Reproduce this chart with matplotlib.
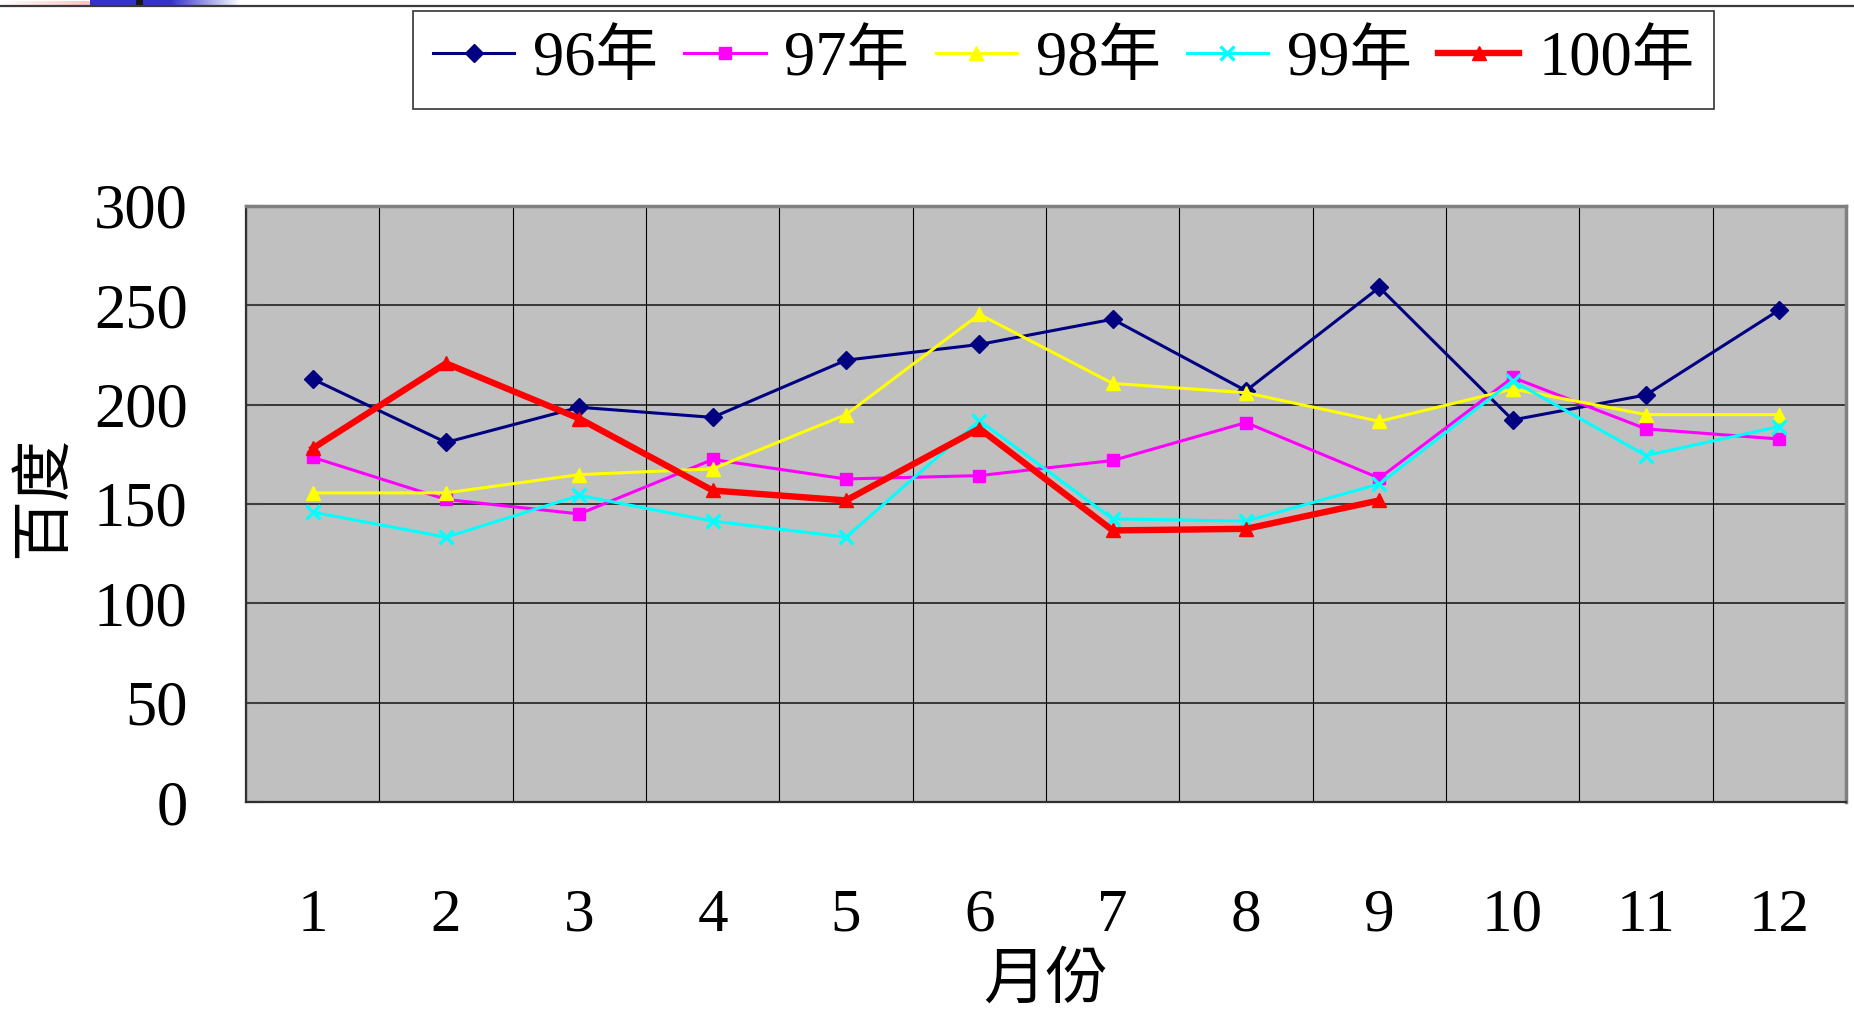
import matplotlib
matplotlib.use('Agg')
import matplotlib.pyplot as plt
import numpy as np

FAM = ['Liberation Serif', 'Noto Sans CJK TC', 'DejaVu Sans']
plt.rcParams['font.family'] = FAM

months = list(range(1, 13))
month_labels = [str(m) for m in months]
y96 = [212.9, 181, 198.7, 193.6, 222.4, 230.3, 243, 207, 259, 192.3, 204.9, 247.7]
y97 = [173.5, 152.3, 145, 172.4, 162.6, 164.3, 171.9, 191, 163, 213.7, 187.8, 182.7]
y98 = [155.6, 155.6, 164.8, 167.7, 195, 245.5, 210.7, 206, 191.6, 207.9, 195, 195]
y99 = [145.9, 133.3, 154.3, 141.4, 133.3, 192, 142.5, 141.4, 160.1, 212, 174.4, 189]
y100 = [178, 220.8, 193, 156.8, 151.8, 188, 136.7, 137.5, 151.8]
series_names = ['96年', '97年', '98年', '99年', '100年']
yticks = [0, 50, 100, 150, 200, 250, 300]
ytick_labels = [str(v) for v in yticks]

W, H = 1854, 1013
fig = plt.figure(figsize=(W / 100, H / 100), dpi=100)

# slide decoration at top
deco = fig.add_axes([0, 1 - 6 / H, 1, 6 / H])
deco.set_xlim(0, W)
deco.set_ylim(6, 0)
deco.axis('off')
img = np.ones((6, 260, 3))
for x in range(260):
    if x < 120:
        t = x / 120.0
        img[1:5, x] = [1.0, 1 - 0.32 * t, 1 - 0.32 * t]
    if 90 <= x < 240:
        if x < 170:
            c = np.array([0.2, 0.2, 0.8])
        else:
            t = (x - 170) / 70.0
            c = np.array([0.2, 0.2, 0.8]) * (1 - t) + np.array([1, 1, 1]) * t
        img[0:6, x] = c
    if 136 <= x < 143:
        img[0:6, x] = [0.1, 0.1, 0.1]
deco.imshow(img, extent=(0, 260, 6, 0), aspect='auto', interpolation='nearest')
fig.add_artist(plt.Line2D([0, 1], [1 - 6.5 / H, 1 - 6.5 / H], color='#3a3a3a', lw=1.6,
                          transform=fig.transFigure))

ax = fig.add_axes([246 / W, 1 - 802 / H, 1600 / W, 596 / H])
ax.set_facecolor('#C0C0C0')

ax.plot(months, y96, color='#000080', marker='D', ms=9, lw=2.2, label=series_names[0])
ax.plot(months, y97, color='#FF00FF', marker='s', ms=8.5, lw=2.2, label=series_names[1])
ax.plot(months, y98, color='#FFFF00', marker='^', ms=10, lw=2.2, label=series_names[2])
ax.plot(months, y99, color='#00FFFF', marker='x', ms=10, mew=2.4, lw=2.2, label=series_names[3])
ax.plot(months[:len(y100)], y100, color='#FF0000', marker='^', ms=10.5, lw=4.6, label=series_names[4])

ax.set_xlim(0.5, 12.5)
ax.set_ylim(0, 300)
ax.set_xticks(months)
ax.set_xticklabels(month_labels)
ax.set_xticks(np.arange(0.5, 13, 1), minor=True)
ax.set_yticks(yticks)
ax.set_yticklabels(ytick_labels)
ax.grid(which='minor', axis='x', color='black', lw=0.8)
ax.grid(which='major', axis='y', color='#202020', lw=1.2)
ax.grid(which='major', axis='x', visible=False)
ax.set_axisbelow(True)
ax.tick_params(axis='x', which='both', length=0, pad=62, labelsize=44)
ax.tick_params(axis='y', which='major', direction='in', length=12, width=1.5,
               color='#404040', pad=42, labelsize=45)
for s in ['top', 'right']:
    ax.spines[s].set_color('#808080')
    ax.spines[s].set_linewidth(2.5)
for s in ['left', 'bottom']:
    ax.spines[s].set_color('#303030')
    ax.spines[s].set_linewidth(1.6)

ax.set_xlabel('月份', fontsize=45, va='center', family=FAM)
ax.xaxis.set_label_coords(0.5, -0.303)
ax.set_ylabel('百度', fontsize=44, va='center', ha='center', family=FAM)
ax.yaxis.set_label_coords(-0.126, 0.512)

leg = fig.legend(loc='upper left', bbox_to_anchor=(413 / W, 1 - 11 / H), ncol=5,
                 prop={'family': FAM, 'size': 45}, frameon=True, fancybox=False,
                 edgecolor='black', handlelength=1.3, handletextpad=0.3,
                 columnspacing=0.42, borderpad=0.32, borderaxespad=0)
leg.get_frame().set_linewidth(1.2)

fig.savefig('out.png', dpi=100)
